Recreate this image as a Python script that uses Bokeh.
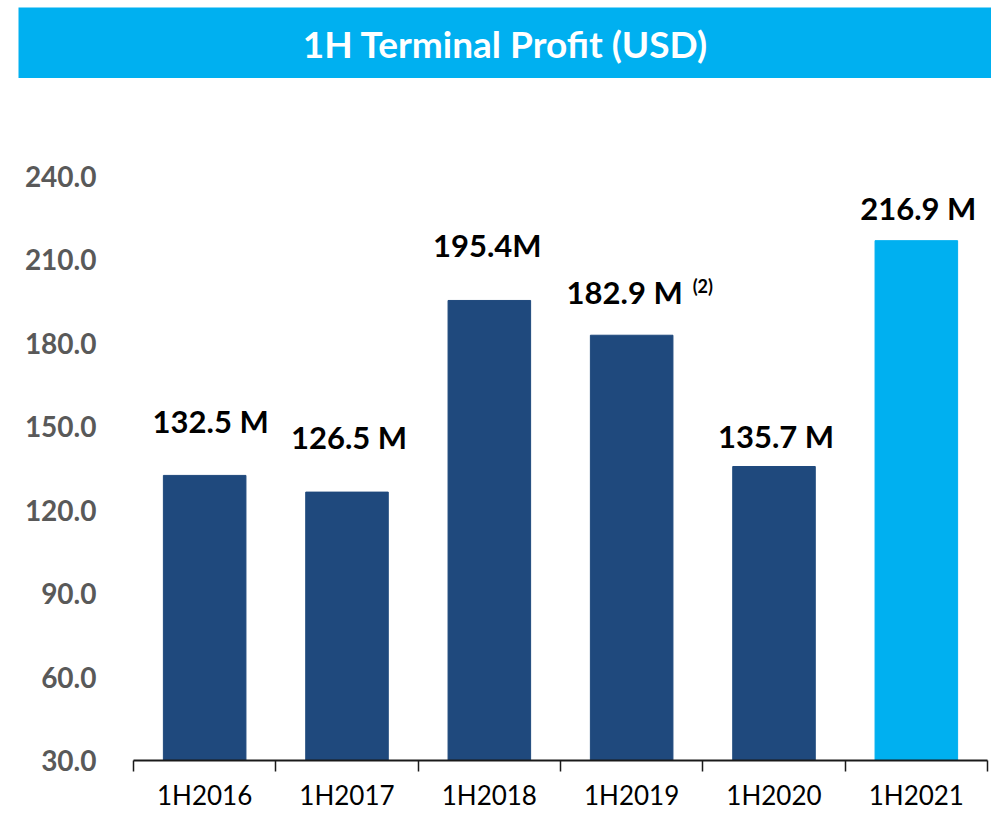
from bokeh.plotting import figure
from bokeh.models import (ColumnDataSource, Range1d, FixedTicker,
                          NumeralTickFormatter)
from bokeh.layouts import column
from bokeh.core.properties import value
from bokeh.embed import file_html
from bokeh.resources import INLINE

# ---------------- data ----------------
chart_title = "1H Terminal Profit (USD)"
periods = ["1H2016", "1H2017", "1H2018", "1H2019", "1H2020", "1H2021"]
profit = [132.5, 126.5, 195.4, 182.9, 135.7, 216.9]
value_labels = ["132.5 M", "126.5 M", "195.4M", "182.9 M", "135.7 M", "216.9 M"]
note_period = "1H2019"
note_text = "(2)"
y_ticks = [30, 60, 90, 120, 150, 180, 210, 240]
y_base = 30

# ---------------- style ----------------
DARK = "#1F497D"
LIGHT = "#00B0F0"
bar_colors = [DARK, DARK, DARK, DARK, DARK, LIGHT]
label_dx = [6, 2, -2, -7, 2, 2]        # screen px
label_dy = [54, 55, 55, 43, 31, 33]    # screen px above bar top
FONT = "Lato"
W = 991
BANNER_H = 78

# ---------------- banner ----------------
banner = figure(width=W, height=BANNER_H, x_range=Range1d(0, W),
                y_range=Range1d(0, BANNER_H),
                toolbar_location=None, output_backend="svg",
                x_axis_location=None, y_axis_location=None, min_border=0,
                outline_line_color=None)
banner.frame_align = False
banner.grid.visible = False
banner.quad(left=18, right=W, bottom=0, top=BANNER_H - 7, fill_color=LIGHT,
            line_color=None)
banner.text(x=[505], y=[BANNER_H - 43], text=[chart_title], text_align="center",
            text_baseline="alphabetic", text_font=value(FONT),
            text_font_style="bold", text_font_size="37px", text_color="white")

# ---------------- chart ----------------
n = len(periods)
centers = [i + 0.5 for i in range(n)]   # category slot centres on the index scale
edges = list(range(n + 1))              # slot boundaries
p = figure(width=W, height=814 - BANNER_H, x_range=Range1d(0, n),
           y_range=Range1d(y_base, 263.7), toolbar_location=None,
           output_backend="svg",
           min_border_left=133, min_border_right=4, min_border_top=32,
           min_border_bottom=54, outline_line_color=None)
p.frame_align = False
p.grid.visible = False

src = ColumnDataSource(dict(x=centers, top=profit, color=bar_colors,
                            label=value_labels, dx=label_dx,
                            dy=[-d for d in label_dy]))
p.vbar(x="x", top="top", bottom=y_base, width=0.58, fill_color="color",
       line_color="color", source=src)
p.text(x="x", y="top", text="label", x_offset="dx", y_offset="dy", source=src,
       text_align="center", text_baseline="alphabetic", text_font=value(FONT),
       text_font_style="bold", text_font_size="31px", text_color="black")

idx = periods.index(note_period)
p.text(x=[centers[idx]], y=[profit[idx]], text=[note_text], x_offset=61,
       y_offset=-49, text_align="left", text_baseline="alphabetic",
       text_font=value(FONT), text_font_style="bold", text_font_size="18px",
       text_color="black")

# y axis
yax = p.yaxis[0]
yax.ticker = FixedTicker(ticks=y_ticks)
yax.formatter = NumeralTickFormatter(format="0.0")
yax.axis_line_color = None
yax.major_tick_line_color = None
yax.major_tick_out = 0
yax.major_tick_in = 0
yax.minor_tick_line_color = None
yax.major_label_standoff = 37
yax.major_label_text_font = FONT
yax.major_label_text_font_style = "bold"
yax.major_label_text_font_size = "28px"
yax.major_label_text_color = "#595959"

# x axis: labels at slot centres, tick marks at slot boundaries
xax = p.xaxis[0]
xax.ticker = FixedTicker(ticks=centers, minor_ticks=edges)
xax.major_label_overrides = {c: s for c, s in zip(centers, periods)}
xax.major_tick_line_color = None
xax.major_tick_out = 0
xax.major_tick_in = 0
xax.minor_tick_out = 11
xax.minor_tick_in = 0
xax.minor_tick_line_color = "#1a1a1a"
xax.minor_tick_line_width = 1.5
xax.axis_line_color = "#1a1a1a"
xax.axis_line_width = 2
xax.major_label_standoff = 7
xax.major_label_text_line_height = 0.7
xax.major_label_text_font = FONT
xax.major_label_text_font_size = "26px"
xax.major_label_text_color = "black"

layout = column(banner, p, spacing=0)
open("out.html", "w").write(file_html(layout, INLINE))
